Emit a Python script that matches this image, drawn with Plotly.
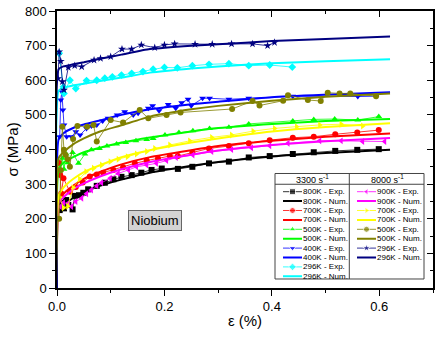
import plotly.graph_objects as go

# ---- values: strain (%) vs stress (MPa) ----
# numerical curves, all read at the same strains
num_strain = [0, 0.003, 0.012, 0.03, 0.05, 0.08, 0.12, 0.173, 0.25, 0.3, 0.4, 0.5, 0.62]

# 3300 s^-1
num_800K = [0, 225, 240, 260, 277, 295, 313, 333, 353, 364, 380, 390, 399]
num_700K = [0, 250, 272, 295, 315, 335, 357, 378, 398, 410, 425, 437, 446]
num_500K = [0, 345, 362, 378, 392, 405, 420, 435, 452, 462, 474, 482, 488]
num_400K = [0, 430, 447, 462, 472, 484, 500, 516, 531, 538, 551, 558, 565]
num_296K = [0, 570, 578, 585, 590, 598, 608, 622, 634, 640, 649, 655, 661]
# 8000 s^-1
num_900K_b = [0, 245, 262, 285, 302, 322, 343, 364, 385, 397, 413, 424, 433]
num_700K_b = [0, 265, 290, 315, 335, 355, 378, 398, 420, 432, 452, 465, 476]
num_500K_b = [0, 375, 392, 415, 432, 452, 470, 495, 516, 526, 541, 552, 562]
num_296K_b = [0, 632, 640, 646, 652, 662, 674, 690, 700, 704, 713, 719, 726]

# experimental points
exp_800K_x = [0.005, 0.009, 0.013, 0.017, 0.021, 0.029, 0.033, 0.041, 0.049, 0.058, 0.074, 0.089, 0.105,
              0.120, 0.139, 0.157, 0.176, 0.195, 0.225, 0.252, 0.283, 0.320, 0.357, 0.396, 0.439, 0.478,
              0.518, 0.559, 0.599]
exp_800K_y = [225, 246, 230, 254, 240, 227, 266, 268, 275, 285, 295, 304, 314, 321, 326, 333, 341, 345,
              344, 350, 360, 365, 377, 381, 387, 392, 396, 399, 401]

exp_700K_x = [0.004, 0.006, 0.008, 0.012, 0.024, 0.035, 0.048, 0.061, 0.074, 0.086, 0.105, 0.123, 0.145,
              0.167, 0.188, 0.210, 0.225, 0.252, 0.283, 0.320, 0.357, 0.396, 0.439, 0.478, 0.518, 0.559, 0.599]
exp_700K_y = [361, 326, 273, 317, 278, 292, 305, 322, 328, 333, 341, 349, 360, 368, 374, 381, 381, 391,
              403, 410, 418, 427, 434, 437, 444, 449, 456]

exp_500K_x = [0.006, 0.010, 0.013, 0.017, 0.020, 0.029, 0.040, 0.052, 0.064, 0.079, 0.093, 0.111, 0.128,
              0.147, 0.167, 0.179, 0.201, 0.227, 0.253, 0.284, 0.320, 0.357, 0.439, 0.478, 0.517, 0.560, 0.599]
exp_500K_y = [340, 375, 343, 387, 362, 391, 360, 387, 399, 403, 410, 416, 420, 425, 429, 432, 442, 449,
              454, 461, 464, 474, 482, 487, 488, 485, 495]

exp_400K_x = [0.005, 0.007, 0.009, 0.011, 0.013, 0.018, 0.027, 0.035, 0.043, 0.055, 0.064, 0.074, 0.085,
              0.095, 0.112, 0.126, 0.142, 0.151, 0.170, 0.178, 0.190, 0.207, 0.221, 0.232, 0.244, 0.250,
              0.271, 0.284, 0.320, 0.357, 0.439, 0.560, 0.594]
exp_400K_y = [437, 543, 567, 514, 471, 437, 437, 451, 442, 461, 468, 471, 482, 490, 500, 509, 500, 505,
              519, 526, 512, 530, 519, 535, 545, 526, 548, 548, 545, 548, 554, 553, 554]

exp_296K_x = [0.004, 0.012, 0.013, 0.024, 0.035, 0.055, 0.074, 0.089, 0.103, 0.120, 0.139, 0.160, 0.179,
              0.200, 0.224, 0.252, 0.283, 0.320, 0.357, 0.396, 0.438]
exp_296K_y = [678, 581, 562, 600, 576, 599, 600, 606, 610, 615, 620, 625, 632, 637, 636, 642, 646, 648,
              642, 644, 638]

exp_900K_b_x = [0.006, 0.012, 0.021, 0.027, 0.035, 0.046, 0.055, 0.064, 0.074, 0.083, 0.099, 0.114, 0.133,
                0.148, 0.167, 0.185, 0.204, 0.222, 0.253, 0.288, 0.325, 0.362, 0.396, 0.430, 0.489, 0.529,
                0.569, 0.610]
exp_900K_b_y = [235, 246, 245, 235, 250, 259, 272, 283, 295, 304, 317, 331, 341, 350, 355, 360, 368, 377,
                384, 394, 400, 405, 411, 418, 425, 425, 423, 423]

exp_700K_b_x = [0.005, 0.012, 0.020, 0.030, 0.042, 0.054, 0.068, 0.083, 0.099, 0.114, 0.131, 0.148, 0.167,
                0.182, 0.210, 0.247, 0.288, 0.325, 0.365, 0.405, 0.446, 0.489, 0.529, 0.569]
exp_700K_b_y = [262, 232, 236, 290, 315, 336, 346, 355, 365, 372, 379, 387, 394, 403, 413, 425, 435, 442,
                453, 461, 466, 471, 473, 468]

exp_500K_b_x = [0.004, 0.007, 0.010, 0.013, 0.016, 0.020, 0.024, 0.030, 0.038, 0.056, 0.068, 0.074, 0.100,
                0.123, 0.154, 0.170, 0.204, 0.230, 0.326, 0.364, 0.377, 0.421, 0.430, 0.467, 0.491, 0.504,
                0.526, 0.546, 0.594]
exp_500K_b_y = [200, 340, 466, 399, 384, 372, 350, 430, 468, 466, 471, 423, 485, 478, 514, 490, 500, 507,
                517, 540, 527, 541, 557, 543, 540, 564, 562, 562, 554]

exp_296K_b_x = [0.002, 0.004, 0.007, 0.010, 0.013, 0.021, 0.033, 0.046, 0.069, 0.081, 0.100, 0.121, 0.139,
                0.157, 0.182, 0.200, 0.219, 0.257, 0.289, 0.325, 0.364, 0.392, 0.405]
exp_296K_b_y = [605, 682, 655, 596, 572, 637, 642, 639, 658, 663, 668, 690, 690, 702, 694, 702, 705, 704,
                704, 705, 705, 700, 709]

# legend rows: (label, colour, symbol, exp x, exp y, num y, column)
series = [
    ("800K", "#000000", "square", exp_800K_x, exp_800K_y, num_800K, 0),
    ("700K", "#ff0000", "circle", exp_700K_x, exp_700K_y, num_700K, 0),
    ("500K", "#00ff00", "triangle-up", exp_500K_x, exp_500K_y, num_500K, 0),
    ("400K", "#0000ff", "triangle-down", exp_400K_x, exp_400K_y, num_400K, 0),
    ("296K", "#00ffff", "diamond", exp_296K_x, exp_296K_y, num_296K, 0),
    ("900K", "#ff00ff", "triangle-left", exp_900K_b_x, exp_900K_b_y, num_900K_b, 1),
    ("700K", "#ffff00", "triangle-right", exp_700K_b_x, exp_700K_b_y, num_700K_b, 1),
    ("500K", "#808000", "circle", exp_500K_b_x, exp_500K_b_y, num_500K_b, 1),
    ("296K", "#000080", "star", exp_296K_b_x, exp_296K_b_y, num_296K_b, 1),
]
headers = ["3300 s<sup>-1</sup>", "8000 s<sup>-1</sup>"]

FONT = "Liberation Sans, Arial, sans-serif"
fig = go.Figure()

# main curves
for name, col, sym, ex, ey, ny, c in series:
    fig.add_trace(go.Scatter(x=ex, y=ey, mode="lines+markers",
                             line=dict(color=col, width=0.8),
                             marker=dict(symbol=sym, size=6, color=col),
                             hoverinfo="skip"))
    fig.add_trace(go.Scatter(x=num_strain, y=ny, mode="lines",
                             line=dict(color=col, width=2, shape="spline", smoothing=0.5),
                             hoverinfo="skip"))

# hand-drawn legend on an inset axis (x in px-ish units, y in row units)
col_x = [(8, 27), (82, 101)]
row_in_col = [0, 0]
for name, col, sym, ex, ey, ny, c in series:
    x0, x1 = col_x[c]
    for kind in ("Exp.", "Num."):
        r = row_in_col[c]
        row_in_col[c] += 1
        if kind == "Exp.":
            fig.add_trace(go.Scatter(x=[x0, (x0 + x1) / 2, x1], y=[r, r, r], mode="lines+markers",
                                     line=dict(color=col, width=0.8),
                                     marker=dict(symbol=sym, size=[0, 6, 0], color=col),
                                     xaxis="x2", yaxis="y2", hoverinfo="skip"))
        else:
            fig.add_trace(go.Scatter(x=[x0, x1], y=[r, r], mode="lines",
                                     line=dict(color=col, width=2),
                                     xaxis="x2", yaxis="y2", hoverinfo="skip"))
        fig.add_annotation(x=x1, y=r, xref="x2", yref="y2", text=f"{name} - {kind}",
                           showarrow=False, xanchor="left", yanchor="middle", xshift=-1,
                           font=dict(family=FONT, size=8, color="black"))

for i, h in enumerate(headers):
    fig.add_annotation(x=[37, 112][i], y=-1.35, xref="x2", yref="y2", text=h, showarrow=False,
                       font=dict(family=FONT, size=9, color="black"))

# legend frame
fig.add_shape(type="rect", xref="x2 domain", yref="y2 domain", x0=0, x1=1, y0=0, y1=1,
              line=dict(color="#444", width=1))
fig.add_shape(type="line", xref="x2", yref="y2", x0=0, x1=149, y0=-0.79, y1=-0.79,
              line=dict(color="#444", width=1))
fig.add_shape(type="line", xref="x2", yref="y2 domain", x0=74.3, x1=74.3, y0=0, y1=1,
              line=dict(color="#444", width=1))

fig.add_annotation(x=0.182, y=194, xref="x", yref="y", text="Niobium", showarrow=False,
                   bgcolor="#d3d3d3", bordercolor="#666", borderwidth=1, borderpad=2,
                   font=dict(family=FONT, size=13, color="black"))

# empty traces so the mirrored (inside-tick) axes get drawn
fig.add_trace(go.Scatter(x=[], y=[], xaxis="x3", yaxis="y3", hoverinfo="skip"))

tickfont = dict(family=FONT, size=13, color="black")
fig.update_layout(
    width=436, height=337,
    margin=dict(l=57, r=3, t=11, b=49),
    paper_bgcolor="white", plot_bgcolor="white",
    showlegend=False,
    font=dict(family=FONT, color="black"),
    xaxis=dict(range=[0, 0.7], tickvals=[0, 0.2, 0.4, 0.6], tickformat=".1f",
               ticks="outside", ticklen=6, tickwidth=1, tickcolor="black",
               minor=dict(dtick=0.1, ticks="outside", ticklen=3, tickcolor="black"),
               showline=True, linecolor="black", linewidth=1.5, mirror=True,
               showgrid=False, zeroline=False, tickfont=tickfont, automargin=False,
               title=dict(text="ε (%)", font=dict(family=FONT, size=15), standoff=2)),
    yaxis=dict(range=[0, 800], dtick=100,
               ticks="outside", ticklen=6, tickwidth=1, tickcolor="black",
               minor=dict(dtick=50, ticks="outside", ticklen=3, tickcolor="black"),
               showline=True, linecolor="black", linewidth=1.5, mirror=True,
               showgrid=False, zeroline=False, tickfont=tickfont, automargin=False,
               title=dict(text="σ (MPa)", font=dict(family=FONT, size=15), standoff=3)),
    xaxis3=dict(range=[0, 0.7], overlaying="x", side="top", anchor="y3",
                tickvals=[0, 0.2, 0.4, 0.6], showticklabels=False, automargin=False,
                ticks="inside", ticklen=6, tickcolor="black",
                minor=dict(dtick=0.1, ticks="inside", ticklen=3, tickcolor="black"),
                showgrid=False, zeroline=False, showline=False),
    yaxis3=dict(range=[0, 800], overlaying="y", side="right", anchor="x3",
                dtick=100, showticklabels=False, automargin=False,
                ticks="inside", ticklen=6, tickcolor="black",
                minor=dict(dtick=50, ticks="inside", ticklen=3, tickcolor="black"),
                showgrid=False, zeroline=False, showline=False),
    xaxis2=dict(domain=[0.5798, 0.9761], range=[0, 149], visible=False, anchor="y2"),
    yaxis2=dict(domain=[0.0325, 0.4134], range=[9.287, -1.936], visible=False, anchor="x2"),
)

# drop the browser's default 8px body margin so the figure sits at the page corner
fig.write_html("out.html", config={"displayModeBar": False},
               post_script="document.body.style.margin='0';")
